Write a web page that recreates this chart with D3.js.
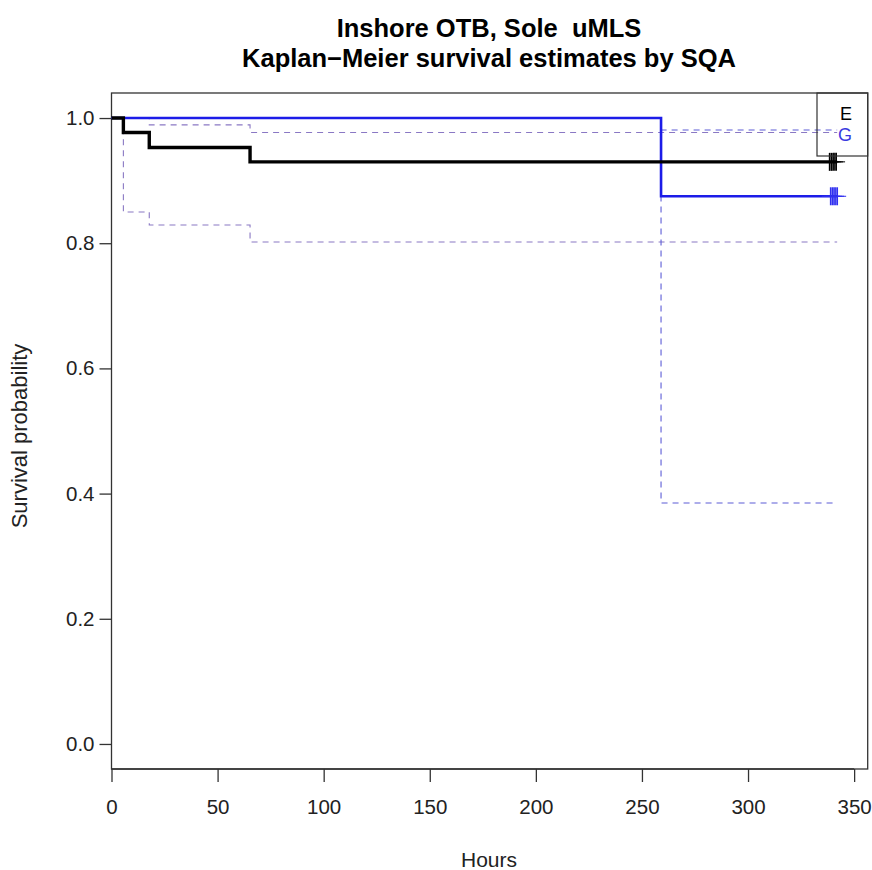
<!DOCTYPE html>
<html>
<head>
<meta charset="utf-8">
<script src="https://cdn.jsdelivr.net/npm/d3@7"></script>
<style>
body { margin: 0; background: #fff; }
svg text { font-family: "Liberation Sans", Arial, sans-serif; white-space: pre; }
</style>
</head>
<body>
<svg id="chart" width="872" height="870"></svg>
<script>
// Kaplan-Meier estimates, group E
const timesE = [0, 5.6, 17.8, 65.3, 342];
const survE  = [1, 0.977, 0.953, 0.930, 0.930];
const upperE = [1, 1, 0.989, 0.977, 0.977];
const lowerE = [1, 0.850, 0.829, 0.802, 0.802];
const censorE = [338.5, 339.5, 340.5, 341.5];

// group G
const timesG = [0, 259, 342];
const survG  = [1, 0.875, 0.875];
const upperG = [1, 0.981, 0.981];
const lowerG = [1, 0.385, 0.385];
const censorG = [339, 340, 341, 342];

const xTicks = [0, 50, 100, 150, 200, 250, 300, 350];
const yTicks = [0, 0.2, 0.4, 0.6, 0.8, 1.0];
const groups = ["E", "G"];

const svg = d3.select("#chart");
const pLeft = 111.5, pRight = 867.7, pTop = 93, pBottom = 769;

const x = d3.scaleLinear().domain([0, 356.4]).range([pLeft, pRight]);
const y = d3.scaleLinear().domain([-0.04, 1.04]).range([pBottom, pTop]);

const step = d3.line()
    .x(d => x(d[0]))
    .y(d => y(d[1]))
    .curve(d3.curveStepAfter);

const pairs = (t, v) => t.map((d, i) => [d, v[i]]);

// box
svg.append("rect")
    .attr("x", pLeft).attr("y", pTop)
    .attr("width", pRight - pLeft).attr("height", pBottom - pTop)
    .attr("fill", "none").attr("stroke", "#333").attr("stroke-width", 1.3);

// axes
const xAxis = svg.append("g")
    .attr("transform", `translate(0,${pBottom})`)
    .call(d3.axisBottom(x).tickValues(xTicks).tickSize(13).tickPadding(17).tickFormat(d3.format("d")));
const yAxis = svg.append("g")
    .attr("transform", `translate(${pLeft},0)`)
    .call(d3.axisLeft(y).tickValues(yTicks).tickSize(12).tickPadding(5).tickFormat(d3.format(".1f")));
[xAxis, yAxis].forEach(g => {
    g.select(".domain").remove();
    g.selectAll("line").attr("stroke", "#333").attr("stroke-width", 1.3);
    g.selectAll("text").attr("font-size", 20.5).attr("fill", "#222")
        .style("font-family", '"Liberation Sans", Arial, sans-serif');
});
svg.append("line")
    .attr("x1", x(0)).attr("x2", x(350))
    .attr("y1", pBottom).attr("y2", pBottom)
    .attr("stroke", "#333").attr("stroke-width", 1.3);

// confidence limits
const ciE = "#8a78c4", ciG = "#5c5cd6";
[[upperE, ciE], [lowerE, ciE]].forEach(([v, c]) => {
    svg.append("path").attr("d", step(pairs(timesE, v)))
        .attr("fill", "none").attr("stroke", c).attr("stroke-width", 1.1)
        .attr("stroke-dasharray", "6,5");
});
[[upperG, ciG], [lowerG, ciG]].forEach(([v, c]) => {
    svg.append("path").attr("d", step(pairs(timesG, v)))
        .attr("fill", "none").attr("stroke", c).attr("stroke-width", 1.1)
        .attr("stroke-dasharray", "6,5");
});

// survival curves
svg.append("path").attr("d", step(pairs(timesG, survG)))
    .attr("fill", "none").attr("stroke", "#1c1ce8").attr("stroke-width", 2.6);
svg.append("path").attr("d", step(pairs(timesE, survE)))
    .attr("fill", "none").attr("stroke", "#000").attr("stroke-width", 3.4);

// censor marks
function marks(times, level, color) {
    const g = svg.append("g").attr("stroke", color).attr("stroke-width", 1.8);
    times.forEach(t => {
        g.append("line").attr("x1", x(t)).attr("x2", x(t))
            .attr("y1", y(level) - 9).attr("y2", y(level) + 9);
        g.append("line").attr("x1", x(t) - 9).attr("x2", x(t) + 9)
            .attr("y1", y(level)).attr("y2", y(level)).attr("stroke-width", 1);
    });
}
marks(censorE, survE[survE.length - 1], "#000");
marks(censorG, survG[survG.length - 1], "#3030f0");

// legend
svg.append("rect")
    .attr("x", 817).attr("y", pTop)
    .attr("width", pRight - 817).attr("height", 63)
    .attr("fill", "none").attr("stroke", "#333").attr("stroke-width", 1.2);
svg.selectAll(".leg").data(groups).enter().append("text")
    .attr("x", 852).attr("y", (d, i) => 120 + i * 21)
    .attr("text-anchor", "end").attr("font-size", 18)
    .attr("fill", (d, i) => i ? "#3a3ae0" : "#000")
    .text(d => d);

// titles
svg.append("text").attr("x", 489).attr("y", 37).attr("text-anchor", "middle")
    .attr("font-size", 25.5).attr("font-weight", "bold").text("Inshore OTB, Sole  uMLS");
svg.append("text").attr("x", 489).attr("y", 67).attr("text-anchor", "middle")
    .attr("font-size", 25.5).attr("font-weight", "bold").text("Kaplan\u2212Meier survival estimates by SQA");
svg.append("text").attr("x", 489).attr("y", 867).attr("text-anchor", "middle")
    .attr("font-size", 21).attr("fill", "#222").text("Hours");
svg.append("text").attr("transform", "translate(27,436) rotate(-90)")
    .attr("text-anchor", "middle").attr("font-size", 22).attr("fill", "#222")
    .text("Survival probability");
</script>
</body>
</html>
